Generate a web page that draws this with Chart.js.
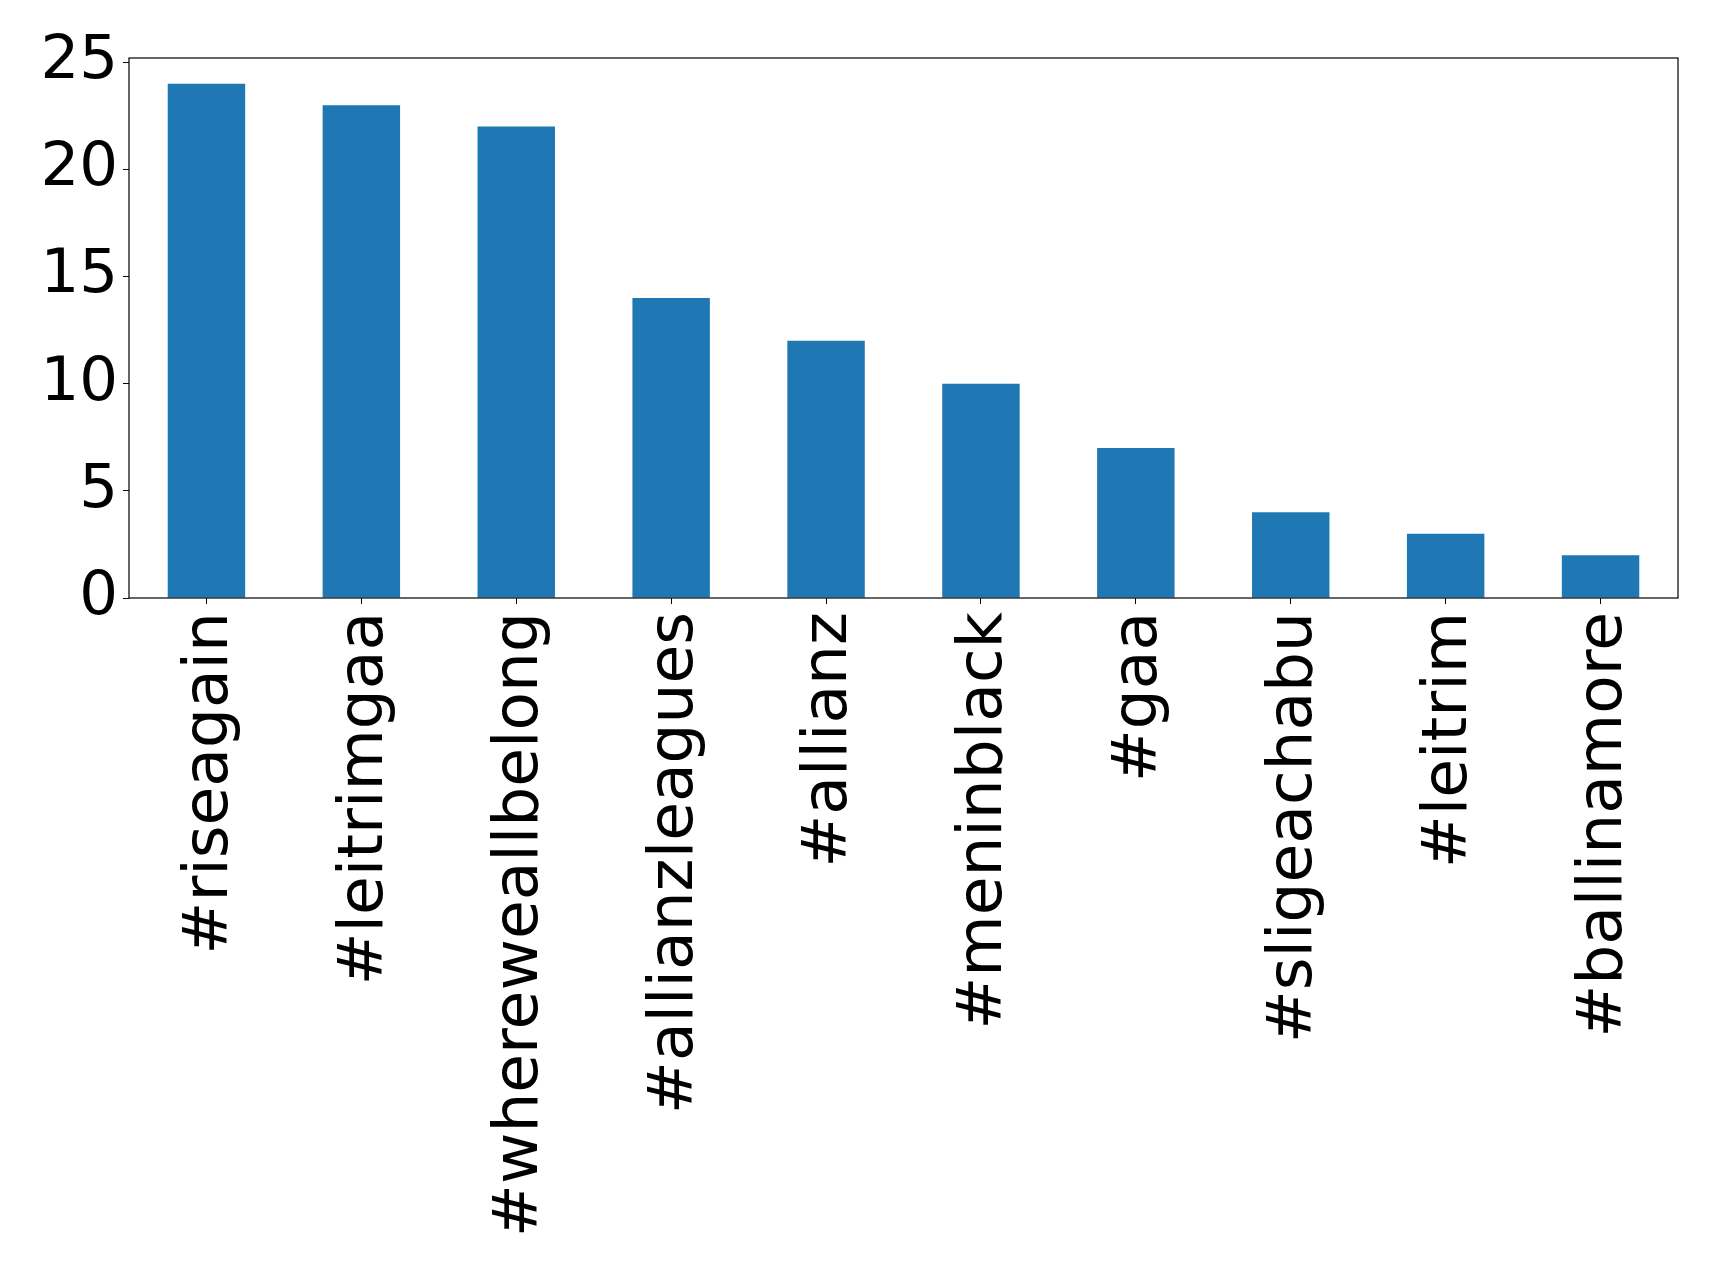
<!DOCTYPE html>
<html>
<head>
<meta charset="utf-8">
<script src="https://cdn.jsdelivr.net/npm/chart.js@4.4.1/dist/chart.umd.min.js"></script>
<style>
  html, body { margin: 0; padding: 0; background: #ffffff; }
  #wrap { width: 1719px; height: 1267px; position: relative; }
</style>
</head>
<body>
<div id="wrap"><canvas id="hashtagChart"></canvas></div>
<script>
'use strict'
var hashtags = ['#riseagain', '#leitrimgaa', '#whereweallbelong', '#allianzleagues', '#allianz',
    '#meninblack', '#gaa', '#sligeachabu', '#leitrim', '#ballinamore'];
var counts = [24, 23, 22, 14, 12, 10, 7, 4, 3, 2];
var yTicks = [0, 5, 10, 15, 20, 25];

/* frame round the plot area, like the matplotlib spines */
var frameBox = {
    id: 'frameBox',
    afterDraw: function (chart) {
        var a = chart.chartArea;
        var ctx = chart.ctx;
        ctx.save();
        ctx.strokeStyle = '#000000';
        ctx.lineWidth = 1.2;
        ctx.strokeRect(a.left, a.top, a.right - a.left, a.bottom - a.top);
        ctx.restore();
    }
};

var ctx = document.getElementById('hashtagChart').getContext('2d');
var hashtagChart = new Chart(ctx, {
    type: 'bar',
    data: {
        labels: hashtags,
        datasets: [{
            data: counts,
            backgroundColor: '#1f77b4',
            borderWidth: 0,
            categoryPercentage: 0.5,
            barPercentage: 1.0
        }]
    },
    options: {
        responsive: true,
        maintainAspectRatio: false,
        animation: false,
        layout: {
            padding: { top: 58, right: 41, bottom: 0, left: 0 }
        },
        plugins: {
            legend: { display: false },
            tooltip: { enabled: false }
        },
        scales: {
            x: {
                grid: {
                    display: true,
                    offset: false,
                    drawOnChartArea: false,
                    drawTicks: true,
                    tickLength: 6,
                    color: '#000000',
                    lineWidth: 1
                },
                border: { display: false },
                ticks: {
                    color: '#000000',
                    font: { family: 'DejaVu Sans', size: 63 },
                    minRotation: 90,
                    maxRotation: 90,
                    autoSkip: false,
                    padding: 8,
                    labelOffset: 4
                },
                afterFit: function (scale) {
                    scale.height = 669;
                    scale.paddingLeft = 0;
                    scale.paddingRight = 0;
                }
            },
            y: {
                min: 0,
                max: 25.2,
                grid: {
                    display: true,
                    drawOnChartArea: false,
                    drawTicks: true,
                    tickLength: 6,
                    color: '#000000',
                    lineWidth: 1
                },
                border: { display: false },
                afterBuildTicks: function (scale) {
                    scale.ticks = yTicks.map(function (v) { return { value: v }; });
                },
                ticks: {
                    color: '#000000',
                    font: { family: 'DejaVu Sans', size: 61 },
                    padding: 5,
                    includeBounds: false
                },
                afterFit: function (scale) {
                    scale.width = 129;
                    scale.paddingTop = 0;
                    scale.paddingBottom = 0;
                }
            }
        }
    },
    plugins: [frameBox]
});
</script>
</body>
</html>
